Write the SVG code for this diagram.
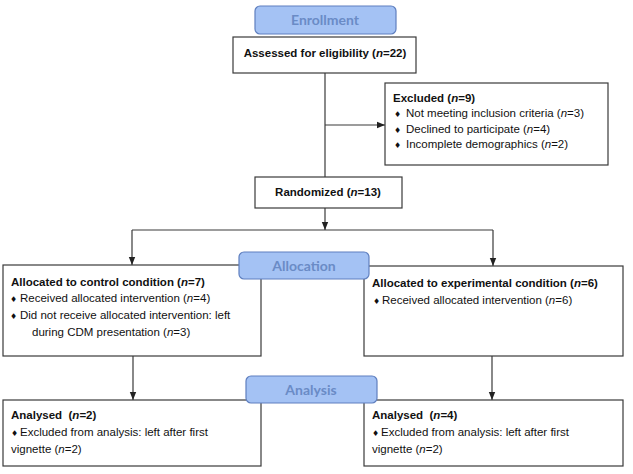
<svg xmlns="http://www.w3.org/2000/svg" width="633" height="474" viewBox="0 0 633 474">
<style>
.box{fill:#fff;stroke:#3a3a3a;stroke-width:1.2}
.lbl{fill:#a4c2f4;stroke:#5f7fbf;stroke-width:1.2}
.lt{font-family:Lato,"Open Sans",sans-serif;font-weight:bold;font-size:14px;fill:#6a8bc6;text-anchor:middle}
.t{font-family:"Liberation Sans",Arial,sans-serif;font-size:11.5px;fill:#111}
.b{font-weight:bold}
.i{font-style:italic}
.bu{font-family:"DejaVu Sans",sans-serif;font-size:8px}
.c{text-anchor:middle}
.ln{fill:none;stroke:#3a3a3a;stroke-width:1.2}
</style>
<defs>
<marker id="ah" markerWidth="8" markerHeight="8" viewBox="0 0 8 8" refX="8" refY="4" orient="auto" markerUnits="userSpaceOnUse">
<path d="M0,0.8 L8,4 L0,7.2 Z" fill="#222"/>
</marker>
</defs>
<g id="connectors">
<line class="ln" x1="325" y1="73" x2="325" y2="177"/>
<line class="ln" x1="325" y1="125" x2="385" y2="125" marker-end="url(#ah)"/>
<line class="ln" x1="325" y1="208" x2="325" y2="230" marker-end="url(#ah)"/>
<line class="ln" x1="132" y1="230" x2="493" y2="230"/>
<line class="ln" x1="132" y1="230" x2="132" y2="265" marker-end="url(#ah)"/>
<line class="ln" x1="493" y1="230" x2="493" y2="266" marker-end="url(#ah)"/>
<line class="ln" x1="133" y1="356" x2="133" y2="400" marker-end="url(#ah)"/>
<line class="ln" x1="492" y1="356" x2="492" y2="400" marker-end="url(#ah)"/>
</g>
<g id="assessed">
<rect class="box" x="233" y="37" width="183" height="36"/>
<text class="t b c" x="325" y="57">Assessed for eligibility (<tspan class="i">n</tspan>=22)</text>
</g>
<g id="excluded">
<rect class="box" x="385" y="83" width="223" height="82"/>
<text class="t b" x="393" y="102">Excluded (<tspan class="i">n</tspan>=9)</text>
<text class="t" x="394" y="117"><tspan class="bu">♦</tspan><tspan x="406">Not meeting inclusion criteria (<tspan class="i">n</tspan>=3)</tspan></text>
<text class="t" x="394" y="133"><tspan class="bu">♦</tspan><tspan x="406">Declined to participate (<tspan class="i">n</tspan>=4)</tspan></text>
<text class="t" x="394" y="148"><tspan class="bu">♦</tspan><tspan x="406">Incomplete demographics (<tspan class="i">n</tspan>=2)</tspan></text>
</g>
<g id="randomized">
<rect class="box" x="255" y="177" width="147" height="31"/>
<text class="t b c" x="328" y="196">Randomized (<tspan class="i">n</tspan>=13)</text>
</g>
<g id="control">
<rect class="box" x="3" y="265" width="258" height="91"/>
<text class="t b" x="11" y="286">Allocated to control condition (<tspan class="i">n</tspan>=7)</text>
<text class="t" x="10" y="302"><tspan class="bu">♦</tspan><tspan x="20">Received allocated intervention (<tspan class="i">n</tspan>=4)</tspan></text>
<text class="t" x="10" y="319"><tspan class="bu">♦</tspan><tspan x="20">Did not receive allocated intervention: left</tspan></text>
<text class="t" x="32" y="336">during CDM presentation (<tspan class="i">n</tspan>=3)</text>
</g>
<g id="experimental">
<rect class="box" x="364" y="266" width="259" height="90"/>
<text class="t b" x="372" y="287">Allocated to experimental condition (<tspan class="i">n</tspan>=6)</text>
<text class="t" x="373" y="304"><tspan class="bu">♦</tspan><tspan x="382">Received allocated intervention (<tspan class="i">n</tspan>=6)</tspan></text>
</g>
<g id="analysed-control">
<rect class="box" x="3" y="400" width="258" height="66"/>
<text class="t b" x="11" y="419" xml:space="preserve">Analysed  (<tspan class="i">n</tspan>=2)</text>
<text class="t" x="11" y="436"><tspan class="bu">♦</tspan><tspan x="20">Excluded from analysis: left after first</tspan></text>
<text class="t" x="11" y="453">vignette (<tspan class="i">n</tspan>=2)</text>
</g>
<g id="analysed-experimental">
<rect class="box" x="364" y="400" width="259" height="66"/>
<text class="t b" x="372" y="419" xml:space="preserve">Analysed  (<tspan class="i">n</tspan>=4)</text>
<text class="t" x="372" y="436"><tspan class="bu">♦</tspan><tspan x="381">Excluded from analysis: left after first</tspan></text>
<text class="t" x="372" y="453">vignette (<tspan class="i">n</tspan>=2)</text>
</g>
<g id="enrollment">
<rect class="lbl" x="255" y="6" width="141" height="28" rx="5"/>
<text class="lt" x="325" y="25">Enrollment</text>
</g>
<g id="allocation">
<rect class="lbl" x="239" y="252" width="130" height="27" rx="5"/>
<text class="lt" x="304" y="271">Allocation</text>
</g>
<g id="analysis">
<rect class="lbl" x="246" y="376" width="131" height="27" rx="5"/>
<text class="lt" x="311" y="395">Analysis</text>
</g>
</svg>
